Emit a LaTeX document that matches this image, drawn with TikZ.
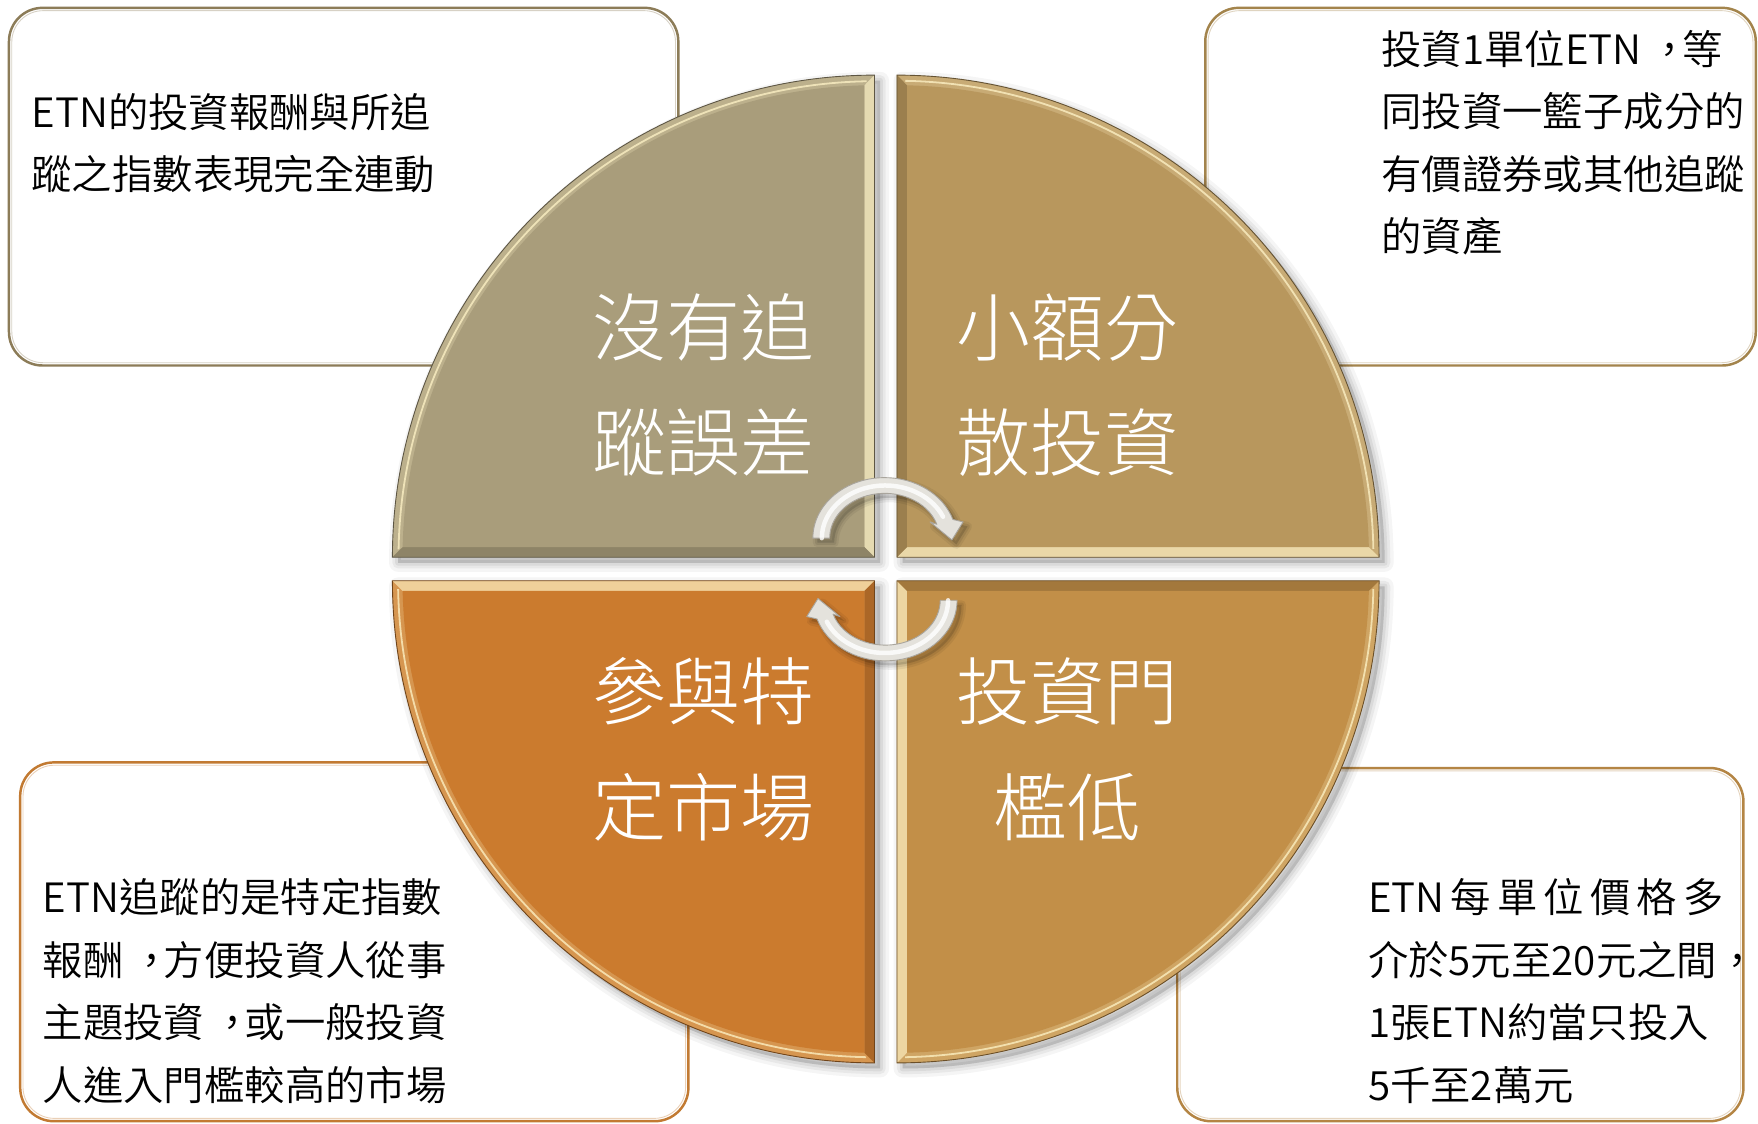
\documentclass[tikz,border=0pt]{standalone}
\usepackage{fontspec}
\setmainfont{Noto Sans CJK TC}
\IfFontExistsTF{Noto Sans CJK TC Light}{\newfontfamily\labelfont{Noto Sans CJK TC Light}}{\newfontfamily\labelfont{Noto Sans CJK TC}}
\IfFontExistsTF{Noto Sans CJK TC DemiLight}{\newfontfamily\bodyfont{Noto Sans CJK TC DemiLight}}{\newfontfamily\bodyfont{Noto Sans CJK TC Light}}
\usetikzlibrary{calc}
\newcommand\cmm{\hspace{0.2em}，\hspace{-0.2em}}
\definecolor{qTL}{HTML}{A99D7B}
\definecolor{qTR}{HTML}{B8975D}
\definecolor{qBL}{HTML}{CB7B2E}
\definecolor{qBR}{HTML}{C28F48}
\definecolor{cream}{HTML}{FFF4C8}
\definecolor{bTL}{HTML}{8C7C58}
\definecolor{bTR}{HTML}{A3844C}
\definecolor{bBL}{HTML}{C27A32}
\definecolor{bBR}{HTML}{B48544}
\definecolor{arrowc}{HTML}{E4E2DC}
\definecolor{arrowd}{HTML}{A9A59D}
% #1 outer, #2 inner, #3 bright strip, #4 dark strip, #5 colour, #6 highlight arc
\newcommand\myquad[6]{%
  \path[fill=#5!78!cream] #1;
  \path[draw=cream, line width=1.6pt, opacity=0.75] #6;
  \path[fill=#5!30!cream] #3;
  \path[fill=#5!84!black] #4;
  \path[fill=#5] #2;
  \path[draw=#5!55!black, line width=0.8pt] #1;
}
\newcommand\myshadow[1]{%
  \foreach \w/\o in {16/0.04,10/0.05,5/0.06}{%
    \path[fill=black, draw=black, line width=\w pt, opacity=\o, line join=round, shift={(5,5)}] #1;}%
}
\newcommand\arrowpath{(725,480) arc[start angle=180,end angle=342,x radius=64,y radius=54] -- (859,465.5) -- (849,481.6) -- (829.5,465.5) -- (835.6,467.64) arc[start angle=342,end angle=180,x radius=49,y radius=40] -- cycle}
\newcommand\drawarrow[1]{%
  \foreach \w/\o in {8/0.06,4/0.08}{%
    \path[fill=black, draw=black, line width=\w pt, opacity=\o, line join=round, shift={#1}] \arrowpath;}%
  \path[fill=arrowc, draw=arrowd, line width=0.8pt, line join=round] \arrowpath;
  \path[draw=white, line width=4pt, opacity=0.8, line cap=round] (733,480) arc[start angle=180,end angle=336,x radius=56.5,y radius=47];
}
\begin{document}
\begin{tikzpicture}[x=1pt,y=-1pt,
  bodytxt/.style={anchor=west, inner sep=0pt, font=\bodyfont\fontsize{36}{36}\selectfont, text height=31.7pt, text depth=4.3pt, text=black},
  lbltxt/.style={anchor=center, inner sep=0pt, font=\labelfont\fontsize{66}{66}\selectfont, text height=58pt, text depth=8pt, text=white},
  infobox/.style={fill=white, line width=2.2pt, rounded corners=30pt},
  innerline/.style={line width=0.8pt, rounded corners=28pt},
]
\useasboundingbox (0,0) rectangle (1568,1002);
\fill[white] (0,0) rectangle (1568,1002);

% info boxes
\path[infobox, draw=bTL] (8,7) rectangle (605,326);
\path[innerline, draw=bTL!35!white] (10.5,9.5) rectangle (602.5,323.5);
\path[infobox, draw=bTR] (1075,7) rectangle (1566,326);
\path[innerline, draw=bTR!35!white] (1077.5,9.5) rectangle (1563.5,323.5);
\path[infobox, draw=bBL] (18,680) rectangle (614,1000);
\path[innerline, draw=bBL!35!white] (20.5,682.5) rectangle (611.5,997.5);
\path[infobox, draw=bBR] (1050,685) rectangle (1555,1000);
\path[innerline, draw=bBR!35!white] (1052.5,687.5) rectangle (1552.5,997.5);

% shadows of the quadrants
\myshadow{(780,497) -- (350,497) arc[start angle=180,end angle=270,radius=430] -- cycle}
\myshadow{(800,497) -- (800,67) arc[start angle=270,end angle=360,radius=430] -- cycle}
\myshadow{(800,518) -- (1230,518) arc[start angle=0,end angle=90,radius=430] -- cycle}
\myshadow{(780,518) -- (780,948) arc[start angle=90,end angle=180,radius=430] -- cycle}

% top-left quadrant
\myquad{(780,497) -- (350,497) arc[start angle=180,end angle=270,radius=430] -- cycle}
       {(771,488) -- (359.1,488) arc[start angle=181.225,end angle=268.775,radius=421] -- cycle}
       {(780,67) -- (780,497) -- (771,488) -- (771,76.1) -- cycle}
       {(780,497) -- (350,497) -- (359.1,488) -- (771,488) -- cycle}
       {qTL}
       {(355.5,490) arc[start angle=181,end angle=269,radius=425]}
% top-right quadrant
\myquad{(800,497) -- (800,67) arc[start angle=270,end angle=360,radius=430] -- cycle}
       {(809,488) -- (809,76.1) arc[start angle=271.225,end angle=358.775,radius=421] -- cycle}
       {(800,497) -- (1230,497) -- (1220.9,488) -- (809,488) -- cycle}
       {(800,497) -- (800,67) -- (809,76.1) -- (809,488) -- cycle}
       {qTR}
       {(807.4,72.1) arc[start angle=271,end angle=359,radius=425]}
% bottom-right quadrant
\myquad{(800,518) -- (1230,518) arc[start angle=0,end angle=90,radius=430] -- cycle}
       {(809,527) -- (1220.9,527) arc[start angle=1.225,end angle=88.775,radius=421] -- cycle}
       {(800,518) -- (800,948) -- (809,938.9) -- (809,527) -- cycle}
       {(800,518) -- (1230,518) -- (1220.9,527) -- (809,527) -- cycle}
       {qBR}
       {(1224.9,525.4) arc[start angle=1,end angle=89,radius=425]}
% bottom-left quadrant
\myquad{(780,518) -- (780,948) arc[start angle=90,end angle=180,radius=430] -- cycle}
       {(771,527) -- (771,938.9) arc[start angle=91.225,end angle=178.775,radius=421] -- cycle}
       {(780,518) -- (350,518) -- (359.1,527) -- (771,527) -- cycle}
       {(780,518) -- (780,948) -- (771,938.9) -- (771,527) -- cycle}
       {qBL}
       {(772.6,942.9) arc[start angle=91,end angle=179,radius=425]}

% circular arrows
\drawarrow{(4,4)}
\begin{scope}[rotate around={180:(789.3,507.7)}]
  \drawarrow{(-4,-4)}
\end{scope}

% quadrant labels
\node[lbltxt] (tla) at (627.5,292) {沒有追};
\node[lbltxt] (tlb) at (627.5,395) {蹤誤差};
\node[lbltxt] (tra) at (952.5,292) {小額分};
\node[lbltxt] (trb) at (952.5,395) {散投資};
\node[lbltxt] (bla) at (627.5,617) {參與特};
\node[lbltxt] (blb) at (627.5,720) {定市場};
\node[lbltxt] (bra) at (952.5,617) {投資門};
\node[lbltxt] (brb) at (952.5,720) {檻低};

% box texts
\node[bodytxt] (t1) at (28,100) {ETN的投資報酬與所追};
\node[bodytxt] (t2) at (28,155) {蹤之指數表現完全連動};

\node[bodytxt] (r1) at (1232,44) {投資1單位ETN\cmm 等};
\node[bodytxt] (r2) at (1232,99) {同投資一籃子成分的};
\node[bodytxt] (r3) at (1232,155) {有價證券或其他追蹤};
\node[bodytxt] (r4) at (1232,211) {的資產};

\node[bodytxt] (l1) at (38,800) {ETN追蹤的是特定指數};
\node[bodytxt] (l2) at (38,856) {報酬\cmm 方便投資人從事};
\node[bodytxt] (l3) at (38,912) {主題投資\cmm 或一般投資};
\node[bodytxt] (l4) at (38,968) {人進入門檻較高的市場};

\node[bodytxt] (s1) at (1220,800) {\makebox[317pt][s]{ETN 每 單 位 價 格 多}};
\node[bodytxt] (s2) at (1220,856) {介於5元至20元之間，};
\node[bodytxt] (s3) at (1220,912) {1張ETN約當只投入};
\node[bodytxt] (s4) at (1220,968) {5千至2萬元};
\end{tikzpicture}
\end{document}
